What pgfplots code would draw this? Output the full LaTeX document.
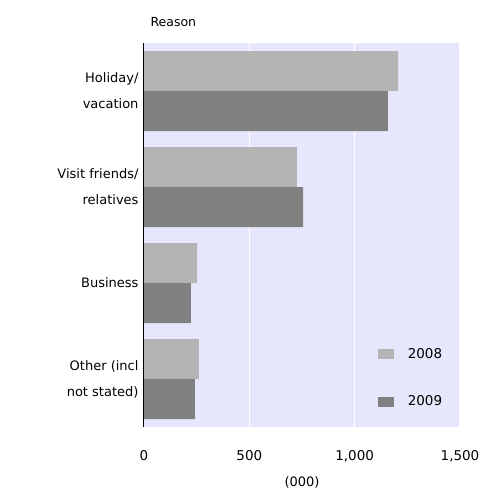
\documentclass[border=0pt]{standalone}
\usepackage{pgfplots}
\pgfplotsset{compat=1.18}
\usepackage{fontspec}
\setmainfont{DejaVu Sans}
\definecolor{bgc}{RGB}{230,230,252}
\definecolor{ca}{RGB}{180,180,180}
\definecolor{cb}{RGB}{128,128,128}
\begin{document}
\begin{tikzpicture}[x=1pt,y=1pt]
\path (-144,-69) rectangle (344,427);
\begin{axis}[at={(0,0)},anchor=south west,
  width=316pt,height=384pt,scale only axis,
  xbar, bar width=40pt,
  ybar legend,
  xmin=0,xmax=1500,ymin=-0.5,ymax=3.5,y dir=reverse,
  axis background/.style={fill=bgc},
  axis line style={draw=none},
  xtick={0,500,1000,1500},
  xticklabels={0,500,{1,000},{1,500}},
  xmajorgrids, grid style={white,line width=1pt},
  ytick={0,1,2,3},
  yticklabels={{Holiday/\\vacation},{Visit friends/\\relatives},Business,{Other (incl\\not stated)}},
  yticklabel style={align=right,font=\fontsize{13}{26}\selectfont,xshift=-2pt},
  xticklabel style={font=\fontsize{13.5}{15}\selectfont},
  major tick length=0pt,
  tick label style={/pgf/number format/assume math mode=true},
  xticklabel shift=20pt,
  xlabel={(000)}, xlabel style={font=\fontsize{13}{15}\selectfont,yshift=-8pt},
  legend style={draw=none,fill=none,at={(0.96,0.04)},anchor=south east,
    font=\fontsize{13.5}{15}\selectfont,row sep=32pt,
    /tikz/every odd column/.append style={column sep=12pt}},
  legend image code/.code={\fill[#1] (0pt,-5pt) rectangle (16pt,5pt);},
  clip=false]
\addplot[draw=none,fill=ca,bar shift=20pt] coordinates {(1206,0) (726,1) (252,2) (261,3)};
\addplot[draw=none,fill=cb,bar shift=-20pt] coordinates {(1158,0) (755,1) (223,2) (242,3)};
\legend{2008,2009}
\draw[black,line width=1pt] (axis cs:0,-0.5) -- (axis cs:0,3.5);
\end{axis}
\node[anchor=base west,font=\fontsize{12.5}{14}\selectfont] at (3,400) {Reason};
\end{tikzpicture}
\end{document}
